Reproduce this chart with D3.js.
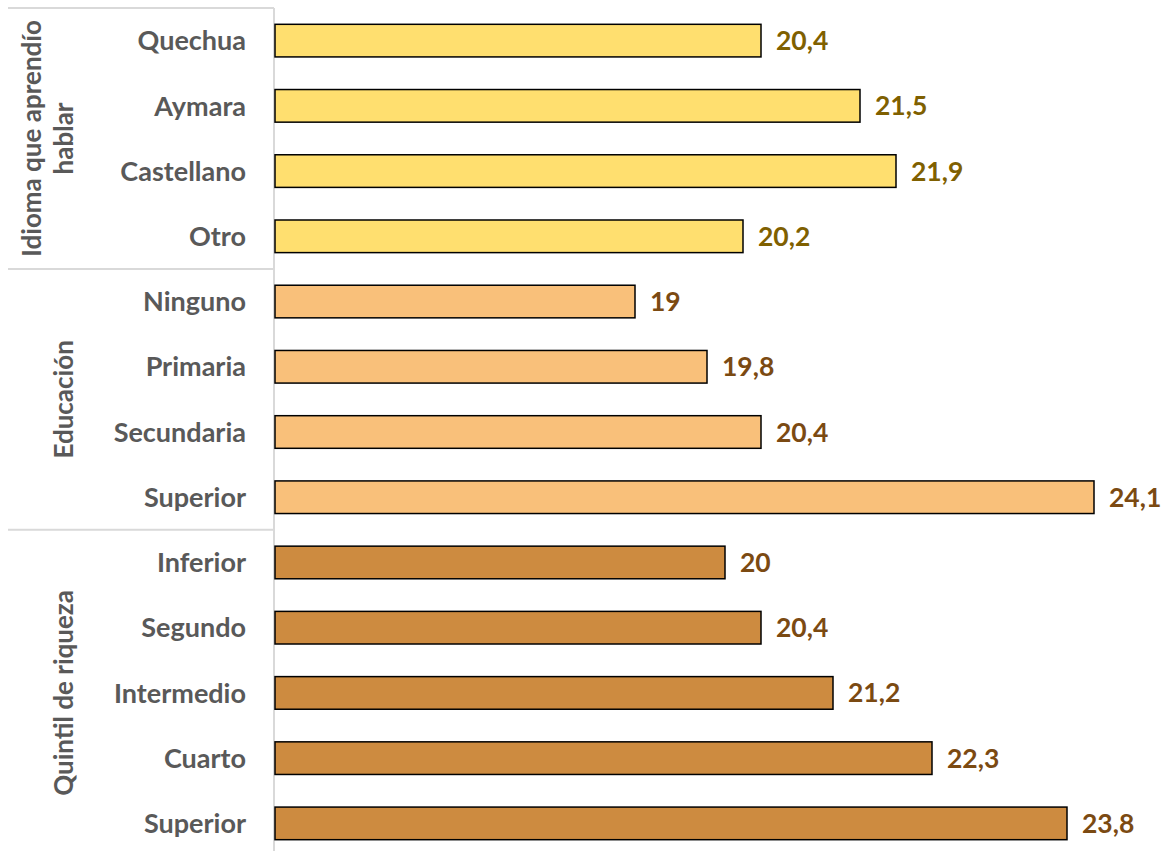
<!DOCTYPE html>
<html>
<head>
<meta charset="utf-8">
<script src="https://cdn.jsdelivr.net/npm/d3@7"></script>
<style>
  body { margin: 0; background: #fff; }
  svg { display: block; font-family: Lato, "Open Sans", sans-serif; }
</style>
</head>
<body>
<svg id="chart" width="1161" height="851"></svg>
<script>
// Datos
const grupos = ["Idioma que aprendío hablar", "Educación", "Quintil de riqueza"];
const categorias = ["Quechua", "Aymara", "Castellano", "Otro",
                    "Ninguno", "Primaria", "Secundaria", "Superior",
                    "Inferior", "Segundo", "Intermedio", "Cuarto", "Superior"];
const grupoDe = [0, 0, 0, 0, 1, 1, 1, 1, 2, 2, 2, 2, 2];
const valores = [20.4, 21.5, 21.9, 20.2, 19, 19.8, 20.4, 24.1, 20, 20.4, 21.2, 22.3, 23.8];

const rellenos = ["#FFDF6F", "#F9C07A", "#CD8B40"];
const colorEtiqueta = ["#7F6000", "#7B4A12", "#7B4A12"];

const filas = categorias.map((c, i) => ({ id: i, cat: c, grupo: grupoDe[i], valor: valores[i] }));

const svg = d3.select("#chart");
const margin = { top: 8, left: 274 };
const alto = 848;

const x = d3.scaleLinear().domain([15, 25]).range([margin.left + 1, margin.left + 901]);
const y = d3.scaleBand()
  .domain(filas.map(d => d.id))
  .range([margin.top, margin.top + alto])
  .paddingInner(0.5)
  .paddingOuter(0.25);

const fmt = v => String(v).replace(".", ",");

// Líneas separadoras de grupos
const paso = y.step();
const bordes = [0, 4, 8].map(i => margin.top + i * paso);
svg.selectAll("line.sep")
  .data(bordes)
  .enter().append("line")
    .attr("class", "sep")
    .attr("x1", 8).attr("x2", margin.left)
    .attr("y1", d => d).attr("y2", d => d)
    .attr("stroke", "#D9D9D9")
    .attr("stroke-width", 2);

// Eje vertical
svg.append("line")
  .attr("x1", margin.left).attr("x2", margin.left)
  .attr("y1", margin.top).attr("y2", 851)
  .attr("stroke", "#D9D9D9")
  .attr("stroke-width", 2);

// Barras
svg.selectAll("rect.bar")
  .data(filas)
  .enter().append("rect")
    .attr("class", "bar")
    .attr("x", x(15))
    .attr("y", d => y(d.id))
    .attr("width", d => x(d.valor) - x(15))
    .attr("height", y.bandwidth())
    .attr("fill", d => rellenos[d.grupo])
    .attr("stroke", "#000")
    .attr("stroke-width", 1.5);

// Etiquetas de valor
svg.selectAll("text.valor")
  .data(filas)
  .enter().append("text")
    .attr("class", "valor")
    .attr("x", d => x(d.valor) + 15)
    .attr("y", d => y(d.id) + y.bandwidth() / 2)
    .attr("dy", "0.36em")
    .style("font-size", "26.5px")
    .style("font-weight", "bold")
    .attr("fill", d => colorEtiqueta[d.grupo])
    .text(d => fmt(d.valor));

// Etiquetas de categoría
svg.selectAll("text.cat")
  .data(filas)
  .enter().append("text")
    .attr("class", "cat")
    .attr("x", 246)
    .attr("y", d => y(d.id) + y.bandwidth() / 2)
    .attr("dy", "0.36em")
    .attr("text-anchor", "end")
    .style("font-size", "27px")
    .style("font-weight", "bold")
    .attr("fill", "#595959")
    .text(d => d.cat);

// Títulos de grupo (rotados)
const lineasGrupo = [["Idioma que aprendío", "hablar"], ["Educación"], ["Quintil de riqueza"]];
lineasGrupo.forEach((lineas, g) => {
  const cy = margin.top + (g === 0 ? 2 : g === 1 ? 6 : 10.5) * paso;
  const t = svg.append("text")
    .attr("transform", `translate(${lineas.length > 1 ? 32 : 64},${cy}) rotate(-90)`)
    .attr("text-anchor", "middle")
    .style("font-size", "26px")
    .style("font-weight", "bold")
    .attr("fill", "#595959");
  lineas.forEach((l, i) => {
    t.append("tspan")
      .attr("x", 0)
      .attr("dy", i === 0 ? "0.36em" : "1.2em")
      .text(l);
  });
});
</script>
</body>
</html>
